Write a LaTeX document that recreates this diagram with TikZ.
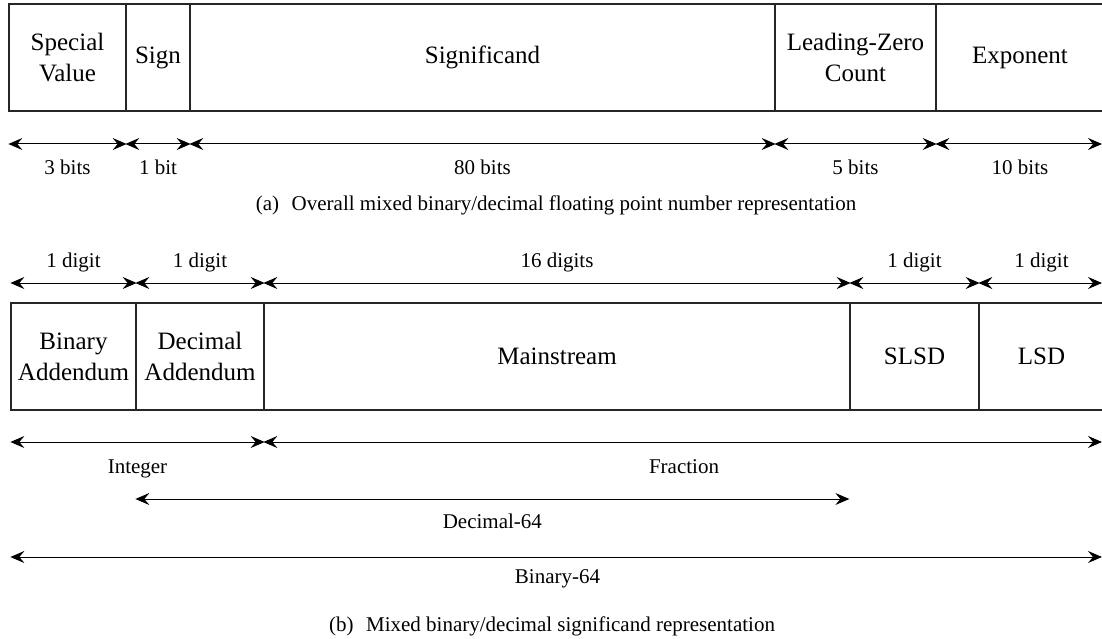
\documentclass[tikz,border=0pt]{standalone}
\usepackage{fontspec}
\setmainfont{Liberation Serif}
\usetikzlibrary{arrows.meta,calc}

\tikzset{
  field/.style={draw=black!85, line width=1.3pt, minimum height=107pt,
    inner sep=0pt, align=center, font=\fontsize{25}{31}\selectfont},
  lab/.style={anchor=base, inner sep=0pt, font=\fontsize{21}{25}\selectfont},
  tip/.tip={Stealth[length=14pt,width=12pt,inset=5pt]},
  dim/.style={line width=1pt, tip-tip},
}

\begin{document}
\begin{tikzpicture}[x=1pt,y=-1pt]
\useasboundingbox (0,0) rectangle (1102,639);
\clip (0,0) rectangle (1102,639);

% ---------- (a) overall number format ----------
\node[field, minimum width=117pt] (sv)  at (67.5,57.5)  {Special\\Value};
\node[field, minimum width=64pt]  (sg)  at (158,57.5)   {Sign};
\node[field, minimum width=585pt] (sig) at (482.5,57.5) {Significand};
\node[field, minimum width=161pt] (lzc) at (855.5,57.5) {Leading-Zero\\Count};
\node[field, minimum width=168pt] (ex)  at (1020,57.5)  {Exponent};

\coordinate (ya) at (0,144);
\coordinate (ra) at (1102,144);
\draw[dim] (sv.west |- ya)  -- (sv.east |- ya);
\draw[dim] (sg.west |- ya)  -- (sg.east |- ya);
\draw[dim] (sig.west |- ya) -- (sig.east |- ya);
\draw[dim] (lzc.west |- ya) -- (lzc.east |- ya);
\draw[dim] (ex.west |- ya)  -- (ra);

\coordinate (yal) at (0,175);
\node[lab] (la1) at (sv |- yal)  {3 bits};
\node[lab] (la2) at (sg |- yal)  {1 bit};
\node[lab] (la3) at (sig |- yal) {80 bits};
\node[lab] (la4) at (lzc |- yal) {5 bits};
\node[lab] (la5) at (ex |- yal)  {10 bits};

\node[lab] (capa) at (556,210)
  {(a)\hspace{0.6em}Overall mixed binary/decimal floating point number representation};

% ---------- (b) significand format ----------
\node[field, minimum width=125pt] (ba) at (73.5,356.5)   {Binary\\Addendum};
\node[field, minimum width=128pt] (da) at (200,356.5)    {Decimal\\Addendum};
\node[field, minimum width=586pt] (ms) at (557,356.5)    {Mainstream};
\node[field, minimum width=129pt] (sl) at (914.5,356.5)  {SLSD};
\node[field, minimum width=125pt] (ls) at (1041.5,356.5) {LSD};

\coordinate (yb) at (0,283);
\coordinate (rb) at (1102,283);
\draw[dim] (ba.west |- yb) -- (ba.east |- yb);
\draw[dim] (da.west |- yb) -- (da.east |- yb);
\draw[dim] (ms.west |- yb) -- (ms.east |- yb);
\draw[dim] (sl.west |- yb) -- (sl.east |- yb);
\draw[dim] (ls.west |- yb) -- (rb);

\coordinate (ybl) at (0,267);
\node[lab] (lb1) at (ba |- ybl) {1 digit};
\node[lab] (lb2) at (da |- ybl) {1 digit};
\node[lab] (lb3) at (ms |- ybl) {16 digits};
\node[lab] (lb4) at (sl |- ybl) {1 digit};
\node[lab] (lb5) at (ls |- ybl) {1 digit};

% midpoints of the spans below the significand
\coordinate (mint) at ($(ba.west)!0.5!(da.east)$);
\coordinate (mfra) at ($(ms.west)!0.5!(ls.east)$);
\coordinate (mdec) at ($(da.west)!0.5!(sl.west)$);
\coordinate (mbin) at ($(ba.west)!0.5!(ls.east)$);

% integer / fraction split
\coordinate (yc) at (0,442);
\coordinate (rc) at (1102,442);
\coordinate (ycl) at (0,473);
\draw[dim] (ba.west |- yc) -- (da.east |- yc);
\draw[dim] (ms.west |- yc) -- (rc);
\node[lab] (lint) at (mint |- ycl) {Integer};
\node[lab] (lfra) at (mfra |- ycl) {Fraction};

% decimal-64 span
\coordinate (yd) at (0,499);
\coordinate (ydl) at (0,528);
\draw[dim] (da.west |- yd) -- (sl.west |- yd);
\node[lab] (ldec) at (mdec |- ydl) {Decimal-64};

% binary-64 span
\coordinate (ye) at (0,557);
\coordinate (re) at (1102,557);
\coordinate (yel) at (0,583);
\draw[dim] (ba.west |- ye) -- (re);
\node[lab] (lbin) at (mbin |- yel) {Binary-64};

\node[lab] (capb) at (552,631)
  {(b)\hspace{0.6em}Mixed binary/decimal significand representation};
\end{tikzpicture}
\end{document}
